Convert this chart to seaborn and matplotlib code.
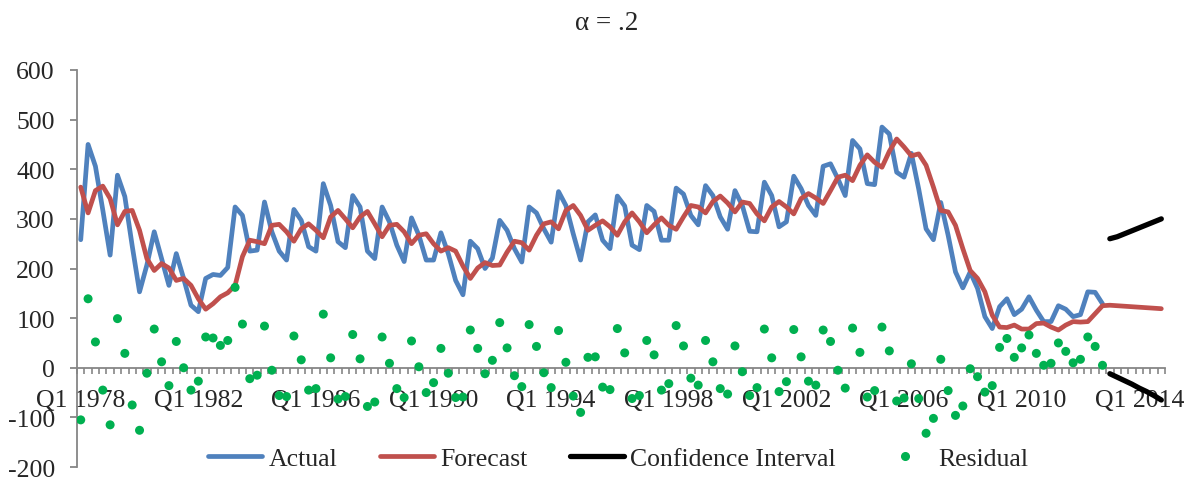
#Exponential smoothing chart: actual, forecast, confidence band and residuals

import matplotlib
matplotlib.use('Agg')
import matplotlib.pyplot as plt
from matplotlib.lines import Line2D
import seaborn as sns
import pandas as pd
import numpy as np

quarters = [f'Q{q} {y}' for y in range(1978, 2015) for q in range(1, 5)]
tick_labels = ['Q1 1978', 'Q1 1982', 'Q1 1986', 'Q1 1990', 'Q1 1994',
               'Q1 1998', 'Q1 2002', 'Q1 2006', 'Q1 2010', 'Q1 2014']

actual = [258, 450, 406, 318, 227, 388, 345, 246, 153, 207, 274, 220, 166, 230, 180, 126,
          113, 180, 188, 186, 202, 324, 307, 235, 237, 334, 274, 235, 217, 319, 297, 244,
          235, 371, 327, 254, 242, 347, 324, 235, 220, 324, 294, 247, 214, 302, 267, 217,
          217, 272, 230, 176, 147, 255, 240, 200, 221, 297, 277, 240, 213, 324, 312, 280,
          253, 355, 327, 270, 217, 294, 308, 257, 240, 346, 326, 247, 238, 327, 315, 257,
          257, 362, 350, 307, 288, 367, 347, 304, 279, 357, 327, 275, 274, 374, 347, 284,
          294, 386, 361, 327, 307, 406, 411, 381, 347, 458, 441, 371, 369, 485, 471, 394,
          384, 432, 360, 280, 258, 333, 267, 193, 161, 193, 160, 103, 79, 123, 139, 107,
          118, 143, 116, 93, 93, 125, 118, 103, 107, 153, 152, 129]

forecast = [364, 312, 357, 366, 341, 288, 315, 317, 277, 220, 196, 210, 201, 176, 180, 166,
            139, 118, 129, 143, 151, 166, 224, 257, 254, 250, 287, 289, 274, 255, 280, 290,
            277, 262, 304, 317, 300, 282, 304, 315, 290, 264, 287, 289, 274, 250, 267, 270,
            250, 235, 242, 235, 205, 180, 201, 212, 206, 207, 233, 255, 252, 237, 267, 290,
            294, 280, 317, 327, 307, 277, 287, 296, 284, 267, 294, 312, 294, 272, 288, 302,
            287, 279, 304, 327, 324, 312, 335, 346, 332, 314, 334, 331, 310, 296, 324, 335,
            324, 310, 341, 351, 342, 331, 357, 384, 388, 377, 408, 429, 414, 404, 436, 461,
            445, 427, 431, 408, 364, 317, 314, 287, 240, 196, 180, 153, 106, 82, 81, 86,
            78, 78, 89, 90, 82, 76, 86, 93, 92, 93, 109, 125, 126, 125, 124, 123,
            122, 121, 120, 119]

residual = [-105, 139, 52, -45, -115, 99, 29, -75, -126, -11, 78, 12, -36, 53, 0, -45,
            -27, 62, 60, 45, 55, 162, 88, -22, -15, 84, -5, -56, -58, 64, 16, -45,
            -42, 108, 20, -63, -58, 67, 18, -78, -69, 62, 9, -42, -60, 54, 2, -50,
            -30, 39, -11, -60, -59, 76, 39, -12, 15, 91, 40, -16, -38, 87, 43, -10,
            -40, 75, 11, -57, -90, 21, 22, -39, -44, 79, 30, -62, -56, 55, 26, -45,
            -32, 85, 44, -21, -35, 55, 12, -42, -53, 44, -8, -56, -40, 78, 20, -48,
            -28, 77, 22, -27, -35, 76, 53, -5, -41, 80, 31, -59, -46, 82, 34, -67,
            -61, 8, -62, -132, -102, 17, -46, -96, -77, -2, -18, -49, -36, 41, 59, 21,
            40, 66, 29, 5, 9, 50, 33, 10, 17, 62, 43, 5]

ci_upper = [260, 264, 270, 276, 282, 288, 294, 300]
ci_lower = [-12, -19, -26, -33, -41, -48, -56, -65]

n_hist = len(actual)
hist_df = pd.DataFrame({'idx': np.arange(n_hist), 'Actual': actual, 'Residual': residual})
fc_df = pd.DataFrame({'idx': np.arange(len(forecast)), 'Forecast': forecast})
ci_df = pd.DataFrame({'idx': np.arange(n_hist, n_hist + len(ci_upper)),
                      'Upper': ci_upper, 'Lower': ci_lower})

sns.set_style('white')
plt.rcParams['font.family'] = ['Liberation Serif', 'DejaVu Serif']
plt.rcParams['axes.unicode_minus'] = False

blue = '#4F81BD'
red = '#C0504D'
green = '#00B050'
grey = '#868686'
fs = 18.5

fig = plt.figure(figsize=(11.89, 4.81), dpi=100)
ax = fig.add_axes([0.0648, 0.027, 0.9150, 0.8254])

sns.lineplot(data=hist_df, x='idx', y='Actual', color=blue, linewidth=3.4, ax=ax)
sns.lineplot(data=fc_df, x='idx', y='Forecast', color=red, linewidth=3.4, ax=ax)
sns.lineplot(data=ci_df, x='idx', y='Upper', color='black', linewidth=3.8, ax=ax,
             solid_capstyle='round')
sns.lineplot(data=ci_df, x='idx', y='Lower', color='black', linewidth=3.8, ax=ax,
             solid_capstyle='round')
sns.scatterplot(data=hist_df, x='idx', y='Residual', color=green, s=42,
                edgecolor='none', ax=ax, zorder=5)

ax.set_xlim(-0.5, len(quarters) - 0.5)
ax.set_ylim(-200, 600)
ax.set_yticks(range(-200, 601, 100))
ax.set_xlabel('')
ax.set_ylabel('')

tick_pos = [quarters.index(t) for t in tick_labels]
ax.set_xticks(tick_pos)
ax.set_xticklabels(tick_labels)
ax.set_xticks(np.arange(-0.5, len(quarters), 1), minor=True)

ax.spines['top'].set_visible(False)
ax.spines['right'].set_visible(False)
ax.spines['bottom'].set_position(('data', 0))
ax.spines['bottom'].set_color(grey)
ax.spines['left'].set_color(grey)
ax.spines['bottom'].set_linewidth(1.3)
ax.spines['left'].set_linewidth(1.3)

ax.tick_params(axis='y', which='major', direction='out', length=5, width=1.3,
               color=grey, labelsize=fs, pad=11, left=True)
ax.tick_params(axis='x', which='major', length=0, labelsize=fs, pad=15, bottom=True)
ax.tick_params(axis='x', which='minor', direction='out', length=4, width=1.2,
               color=grey, bottom=True)

fig.text(0.51, 0.952, 'α = .2', fontsize=19.5, ha='center', va='center')

handles = [Line2D([], [], color=blue, linewidth=3.4),
           Line2D([], [], color=red, linewidth=3.4),
           Line2D([], [], color='black', linewidth=3.8),
           Line2D([], [], color=green, marker='o', linestyle='none', markersize=5.5)]
fig.legend(handles, ['Actual', 'Forecast', 'Confidence Interval', 'Residual'],
           loc='center', bbox_to_anchor=(0.52, 0.044), ncol=4, frameon=False,
           fontsize=fs, handlelength=2.1, columnspacing=1.65, handletextpad=0.25)

fig.savefig('out.png', dpi=100)
